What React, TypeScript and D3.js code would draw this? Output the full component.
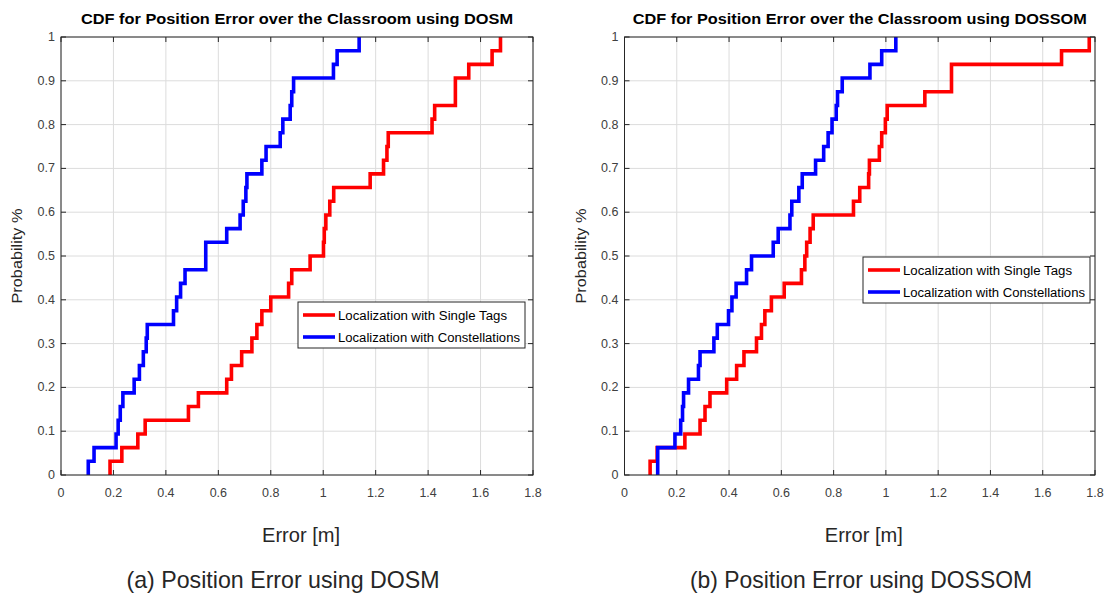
import React from "react";
import * as d3 from "d3";

// ---- data (sorted error samples, n = 32 each) ----
const dosmSingleTags = [
  0.187, 0.232, 0.293, 0.321, 0.486, 0.524, 0.632, 0.65, 0.689, 0.728, 0.747,
  0.766, 0.8, 0.868, 0.88, 0.95, 1.001, 1.004, 1.01, 1.025, 1.04, 1.179, 1.23,
  1.243, 1.248, 1.415, 1.425, 1.504, 1.504, 1.555, 1.644, 1.676,
];
const dosmConstellations = [
  0.104, 0.126, 0.21, 0.218, 0.226, 0.236, 0.279, 0.299, 0.314, 0.325, 0.329,
  0.429, 0.441, 0.456, 0.473, 0.552, 0.552, 0.632, 0.683, 0.695, 0.705, 0.709,
  0.766, 0.782, 0.836, 0.846, 0.874, 0.88, 0.887, 1.039, 1.053, 1.137,
];
const dossomSingleTags = [
  0.098, 0.125, 0.231, 0.289, 0.308, 0.327, 0.391, 0.429, 0.457, 0.505, 0.524,
  0.537, 0.562, 0.611, 0.677, 0.69, 0.697, 0.71, 0.722, 0.876, 0.9, 0.934,
  0.937, 0.975, 0.984, 0.998, 1.005, 1.149, 1.251, 1.251, 1.672, 1.778,
];
const dossomConstellations = [
  0.127, 0.127, 0.193, 0.215, 0.222, 0.226, 0.245, 0.283, 0.289, 0.342, 0.355,
  0.398, 0.411, 0.427, 0.467, 0.486, 0.569, 0.588, 0.633, 0.64, 0.667, 0.68,
  0.731, 0.762, 0.779, 0.794, 0.81, 0.815, 0.833, 0.939, 0.984, 1.038,
];

const xTickValues = [0, 0.2, 0.4, 0.6, 0.8, 1, 1.2, 1.4, 1.6, 1.8];
const xTickLabels = ["0", "0.2", "0.4", "0.6", "0.8", "1", "1.2", "1.4", "1.6", "1.8"];
const yTickValues = [0, 0.1, 0.2, 0.3, 0.4, 0.5, 0.6, 0.7, 0.8, 0.9, 1];
const yTickLabels = ["0", "0.1", "0.2", "0.3", "0.4", "0.5", "0.6", "0.7", "0.8", "0.9", "1"];

const seriesNames = ["Localization with Single Tags", "Localization with Constellations"];
const seriesColors = ["#ff0000", "#0000ff"];
const panelTitles = [
  "CDF for Position Error over the Classroom using DOSM",
  "CDF for Position Error over the Classroom using DOSSOM",
];
const panelCaptions = ["(a) Position Error using DOSM", "(b) Position Error using DOSSOM"];
const xLabel = "Error [m]";
const yLabel = "Probability %";

const FONT = "'Liberation Sans', Arial, Helvetica, sans-serif";

type PanelProps = {
  x0: number;
  x1: number;
  title: string;
  titleW: number;
  caption: string;
  captionW: number;
  captionX: number;
  series: number[][];
  legendX: number;
  legendY: number;
};

function Panel({ x0, x1, title, titleW, caption, captionW, captionX, series, legendX, legendY }: PanelProps) {
  const yTop = 37;
  const yBot = 475;
  const x = d3.scaleLinear().domain([0, 1.8]).range([x0, x1]);
  const y = d3.scaleLinear().domain([0, 1]).range([yBot, yTop]);
  const cx = (x0 + x1) / 2;

  const line = d3
    .line<[number, number]>()
    .x((d) => x(d[0]))
    .y((d) => y(d[1]))
    .curve(d3.curveStepAfter);

  const cdfPoints = (s: number[]): [number, number][] => {
    const n = s.length;
    const pts: [number, number][] = [[s[0], 0]];
    s.forEach((v, i) => pts.push([v, (i + 1) / n]));
    return pts;
  };

  const tickLen = 5;
  const legW = 227;
  const legH = 46;
  const legTextW = [169, 182];

  return (
    <g>
      {/* grid */}
      {xTickValues.map((t, i) => (
        <line key={"gx" + i} x1={x(t)} x2={x(t)} y1={yTop} y2={yBot} stroke="#dcdcdc" strokeWidth={1} />
      ))}
      {yTickValues.map((t, i) => (
        <line key={"gy" + i} x1={x0} x2={x1} y1={y(t)} y2={y(t)} stroke="#dcdcdc" strokeWidth={1} />
      ))}
      {/* series */}
      {series.map((s, i) => (
        <path
          key={"s" + i}
          d={line(cdfPoints(s)) || ""}
          fill="none"
          stroke={seriesColors[i]}
          strokeWidth={3.6}
          strokeLinejoin="miter"
        />
      ))}
      {/* box */}
      <rect x={x0} y={yTop} width={x1 - x0} height={yBot - yTop} fill="none" stroke="#262626" strokeWidth={1} />
      {/* ticks */}
      {xTickValues.map((t, i) => (
        <g key={"tx" + i}>
          <line x1={x(t)} x2={x(t)} y1={yBot} y2={yBot - tickLen} stroke="#262626" />
          <line x1={x(t)} x2={x(t)} y1={yTop} y2={yTop + tickLen} stroke="#262626" />
          <text
            x={x(t)}
            y={yBot + 22}
            textAnchor="middle"
            fontSize={12.5}
            fill="#404040"
            fontFamily={FONT}
          >
            {xTickLabels[i]}
          </text>
        </g>
      ))}
      {yTickValues.map((t, i) => (
        <g key={"ty" + i}>
          <line x1={x0} x2={x0 + tickLen} y1={y(t)} y2={y(t)} stroke="#262626" />
          <line x1={x1} x2={x1 - tickLen} y1={y(t)} y2={y(t)} stroke="#262626" />
          <text
            x={x0 - 6}
            y={y(t) + 4}
            textAnchor="end"
            fontSize={12.5}
            fill="#404040"
            fontFamily={FONT}
          >
            {yTickLabels[i]}
          </text>
        </g>
      ))}
      {/* title */}
      <text
        x={cx}
        y={24}
        textAnchor="middle"
        fontSize={14.5}
        fontWeight="bold"
        fill="#000"
        fontFamily={FONT}
        textLength={titleW}
        lengthAdjust="spacingAndGlyphs"
      >
        {title}
      </text>
      {/* axis labels */}
      <text
        transform={`translate(${x0 - 39},${(yTop + yBot) / 2}) rotate(-90)`}
        textAnchor="middle"
        fontSize={15}
        fill="#262626"
        fontFamily={FONT}
        textLength={95}
        lengthAdjust="spacingAndGlyphs"
      >
        {yLabel}
      </text>
      <text
        x={cx + 4}
        y={542}
        textAnchor="middle"
        fontSize={20}
        fill="#262626"
        fontFamily={FONT}
        textLength={78}
        lengthAdjust="spacingAndGlyphs"
      >
        {xLabel}
      </text>
      <text
        x={captionX}
        y={588}
        textAnchor="middle"
        fontSize={24}
        fill="#262626"
        fontFamily={FONT}
        textLength={captionW}
        lengthAdjust="spacingAndGlyphs"
      >
        {caption}
      </text>
      {/* legend */}
      <g transform={`translate(${legendX},${legendY})`}>
        <rect x={0} y={0} width={legW} height={legH} fill="#fff" stroke="#262626" strokeWidth={1} />
        {seriesNames.map((name, i) => (
          <g key={"l" + i}>
            <line
              x1={5}
              x2={37}
              y1={13 + i * 22}
              y2={13 + i * 22}
              stroke={seriesColors[i]}
              strokeWidth={3.6}
            />
            <text
              x={40}
              y={17.5 + i * 22}
              fontSize={12.5}
              fill="#000"
              fontFamily={FONT}
              textLength={legTextW[i]}
              lengthAdjust="spacingAndGlyphs"
            >
              {name}
            </text>
          </g>
        ))}
      </g>
    </g>
  );
}

export default function App() {
  return (
    <svg
      width={1109}
      height={597}
      style={{ position: "absolute", left: 0, top: 0, background: "#fff" }}
    >
      <rect x={0} y={0} width={1109} height={597} fill="#fff" />
      <Panel
        x0={61}
        x1={533}
        title={panelTitles[0]}
        titleW={432}
        caption={panelCaptions[0]}
        captionW={313}
        captionX={283}
        series={[dosmSingleTags, dosmConstellations]}
        legendX={298}
        legendY={302}
      />
      <Panel
        x0={624.5}
        x1={1095}
        title={panelTitles[1]}
        titleW={454}
        caption={panelCaptions[1]}
        captionW={342}
        captionX={861}
        series={[dossomSingleTags, dossomConstellations]}
        legendX={863}
        legendY={257}
      />
    </svg>
  );
}
